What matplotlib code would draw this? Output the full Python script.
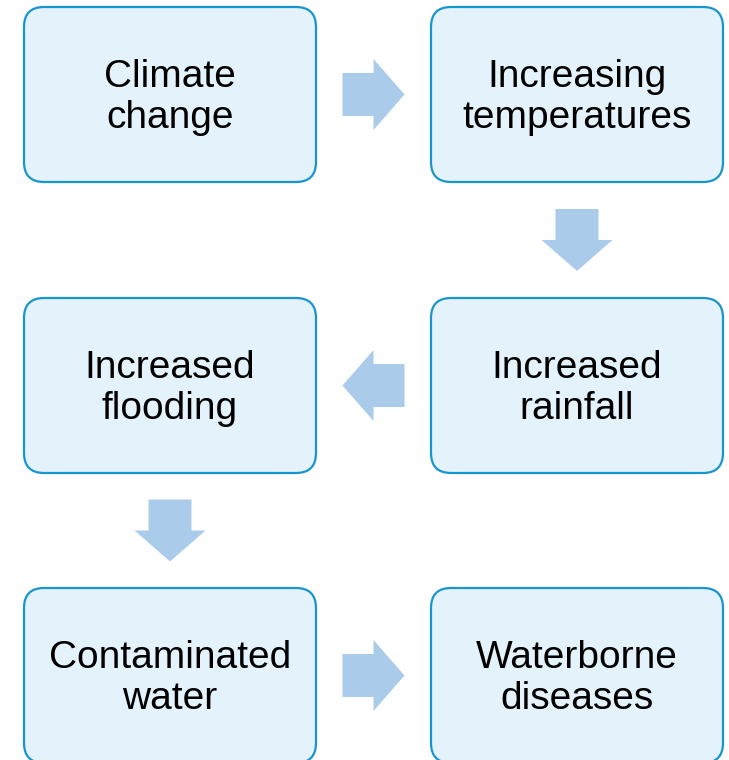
import matplotlib
matplotlib.use("Agg")
import numpy as np
import matplotlib.pyplot as plt
from matplotlib.patches import FancyBboxPatch, Polygon

# Flow chart steps, in reading order, with their grid cell (row, col)
STEPS = [
    "Climate\nchange",
    "Increasing\ntemperatures",
    "Increased\nrainfall",
    "Increased\nflooding",
    "Contaminated\nwater",
    "Waterborne\ndiseases",
]
CELLS = [(0, 0), (0, 1), (1, 1), (1, 0), (2, 0), (2, 1)]

BOX_FILL = "#E4F3FB"
BOX_EDGE = "#1995CD"
ARROW_COLOR = "#AACCEA"

W, H = 729, 760
COL_X = [24, 431]
ROW_Y = [7, 298, 588]
BOX_W, BOX_H = 292, 175


def box_center(cell):
    r, c = cell
    return COL_X[c] + BOX_W / 2, ROW_Y[r] + BOX_H / 2


def block_arrow(ax, center, direction, length=62, shaft=43, head=71, head_len=31):
    d = np.array(direction, dtype=float)
    n = np.array([-d[1], d[0]])
    c = np.array(center, dtype=float)
    tail = c - d * length / 2
    neck = c + d * (length / 2 - head_len)
    tip = c + d * length / 2
    pts = [
        tail + n * shaft / 2,
        neck + n * shaft / 2,
        neck + n * head / 2,
        tip,
        neck - n * head / 2,
        neck - n * shaft / 2,
        tail - n * shaft / 2,
    ]
    ax.add_patch(Polygon(pts, closed=True, facecolor=ARROW_COLOR, edgecolor="none"))


fig = plt.figure(figsize=(W / 100, H / 100), dpi=100)
ax = fig.add_axes([0, 0, 1, 1])
ax.set_xlim(0, W)
ax.set_ylim(H, 0)
ax.axis("off")

for label, (r, c) in zip(STEPS, CELLS):
    ax.add_patch(FancyBboxPatch(
        (COL_X[c], ROW_Y[r]), BOX_W, BOX_H,
        boxstyle="round,pad=0,rounding_size=20",
        facecolor=BOX_FILL, edgecolor=BOX_EDGE, lw=1.6,
    ))
    cx, cy = box_center((r, c))
    ax.text(cx, cy + 3, label, ha="center", va="center",
            fontsize=28, family="Liberation Sans", color="black",
            linespacing=1.2)

# Arrows between consecutive steps, placed midway in the gap
for a, b in zip(CELLS[:-1], CELLS[1:]):
    (x0, y0), (x1, y1) = box_center(a), box_center(b)
    d = np.array([x1 - x0, y1 - y0])
    d = d / np.linalg.norm(d)
    if d[0] != 0:
        # horizontal: midway between box edges
        left = COL_X[0] + BOX_W
        right = COL_X[1]
        mid = ((left + right) / 2, y0)
    else:
        top = ROW_Y[min(a[0], b[0])] + BOX_H
        bottom = ROW_Y[max(a[0], b[0])]
        mid = (x0, (top + bottom) / 2)
    block_arrow(ax, mid, d)

fig.savefig("out.png", dpi=100)
